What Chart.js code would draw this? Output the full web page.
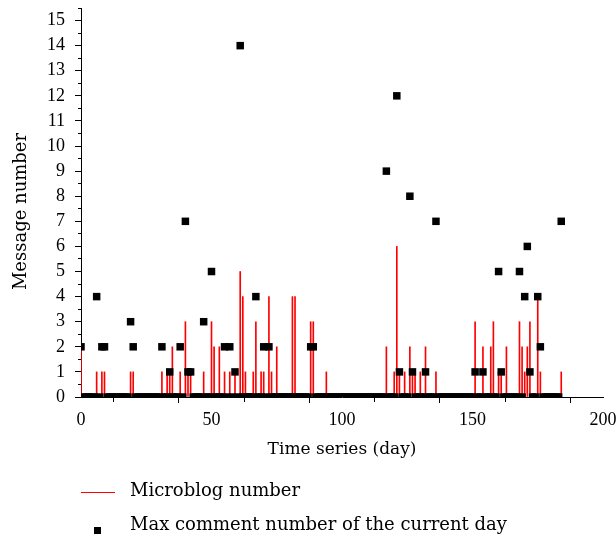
<!DOCTYPE html>
<html>
<head>
<meta charset="utf-8">
<script src="https://cdn.jsdelivr.net/npm/chart.js@4.4.1/dist/chart.umd.min.js"></script>
<style>
  html, body { margin: 0; padding: 0; background: #fff; }
  #wrap { width: 616px; height: 537px; }
</style>
</head>
<body>
<div id="wrap"><canvas id="myChart"></canvas></div>
<script>

// Microblog number per day (index = day 0..184)
var microblogNumber = [
    2,0,0,0,0,0,1,0,1,1,   // 0-9
    0,0,0,0,0,0,0,0,0,1,   // 10-19
    1,0,0,0,0,0,0,0,0,0,   // 20-29
    0,1,0,1,1,2,0,0,1,0,   // 30-39
    3,1,1,0,0,0,0,1,0,0,   // 40-49
    3,2,0,2,0,1,0,1,0,1,   // 50-59
    0,5,4,1,0,0,1,3,0,1,   // 60-69
    1,0,4,1,0,2,0,0,0,0,   // 70-79
    0,4,4,0,0,0,0,0,3,3,   // 80-89
    0,0,0,0,1,0,0,0,0,0,   // 90-99
    0,0,0,0,0,0,0,0,0,0,   // 100-109
    0,0,0,0,0,0,0,2,0,0,   // 110-119
    1,6,1,0,1,0,2,1,1,0,   // 120-129
    1,0,2,0,0,0,1,0,0,0,   // 130-139
    0,0,0,0,0,0,0,0,0,0,   // 140-149
    0,3,0,0,2,0,0,2,3,0,   // 150-159
    1,1,0,2,0,0,0,0,3,2,   // 160-169
    1,2,3,0,0,4,1,0,0,0,   // 170-179
    0,0,0,0,1              // 180-184
];

// Max comment number of the current day (index = day 0..184)
var maxCommentNumber = [
    2,0,0,0,0,0,4,0,2,2,
    0,0,0,0,0,0,0,0,0,3,
    2,0,0,0,0,0,0,0,0,0,
    0,2,0,0,1,0,0,0,2,0,
    7,1,1,0,0,0,0,3,0,0,
    5,0,0,0,0,2,0,2,0,1,
    0,14,0,0,0,0,0,4,0,0,
    2,0,2,0,0,0,0,0,0,0,
    0,0,0,0,0,0,0,0,2,2,
    0,0,0,0,0,0,0,0,0,0,
    0,0,0,0,0,0,0,0,0,0,
    0,0,0,0,0,0,0,9,0,0,
    0,12,1,0,0,0,8,1,0,0,
    0,0,1,0,0,0,7,0,0,0,
    0,0,0,0,0,0,0,0,0,0,
    0,1,0,0,1,0,0,0,0,0,
    5,1,0,0,0,0,0,0,5,0,
    4,6,1,0,0,4,2,0,0,0,
    0,0,0,0,7
];

var seriesNames = ['Microblog number', 'Max comment number of the current day'];
var xTitle = 'Time series (day)';
var yTitle = 'Message number';

var textFont = 'DejaVu Serif';
var numFont = 'Liberation Serif';

// legend drawn under the axis title
var bottomLegend = {
    id: 'bottomLegend',
    afterDraw: function (chart) {
        var ctx = chart.ctx;
        var left = chart.chartArea.left;
        var base = chart.chartArea.bottom;
        ctx.save();
        ctx.font = '18px "' + textFont + '"';
        ctx.fillStyle = '#000';
        ctx.textBaseline = 'middle';
        ctx.textAlign = 'left';

        ctx.strokeStyle = '#ff0000';
        ctx.lineWidth = 1;
        ctx.beginPath();
        ctx.moveTo(left, base + 95.5);
        ctx.lineTo(left + 34, base + 95.5);
        ctx.stroke();
        ctx.fillText(seriesNames[0], left + 49, base + 94);

        ctx.fillStyle = '#000';
        ctx.fillRect(left + 13, base + 130, 7, 7);
        ctx.fillText(seriesNames[1], left + 49, base + 128);
        ctx.restore();
    }
};

var ctx = document.getElementById('myChart').getContext('2d');
var myChart = new Chart(ctx, {
    type: 'bar',
    data: {
        datasets: [
            {
                type: 'scatter',
                label: seriesNames[1],
                data: maxCommentNumber.map(function (v, i) { return { x: i, y: v }; }),
                pointStyle: 'rect',
                pointRadius: 5.3,
                pointBorderWidth: 0,
                backgroundColor: '#000',
                borderColor: '#000',
                clip: 0,
                order: 0
            },
            {
                type: 'bar',
                label: seriesNames[0],
                data: microblogNumber.map(function (v, i) { return { x: i, y: v }; }),
                backgroundColor: '#ff0000',
                borderWidth: 0,
                barThickness: 1,
                grouped: false,
                order: 1
            }
        ]
    },
    options: {
        responsive: true,
        maintainAspectRatio: false,
        animation: false,
        layout: { padding: { top: 8, right: 13, bottom: 77, left: 0 } },
        plugins: {
            legend: { display: false },
            tooltip: { enabled: false }
        },
        scales: {
            x: {
                type: 'linear',
                offset: false,
                min: 0,
                max: 200,
                border: { display: true, color: '#000', width: 1 },
                grid: {
                    drawOnChartArea: false,
                    drawTicks: true,
                    tickLength: 6,
                    color: '#000',
                    tickBorderDash: function (c) { return c.tick && c.tick.value % 50 !== 0 ? [4, 4] : []; }
                },
                ticks: {
                    stepSize: 25,
                    maxRotation: 0,
                    autoSkip: false,
                    padding: 6,
                    color: '#000',
                    font: { family: numFont, size: 18 },
                    callback: function (v) { return v % 50 === 0 ? v : ''; }
                },
                title: {
                    display: true,
                    text: xTitle,
                    color: '#000',
                    padding: 0,
                    font: { family: textFont, size: 17 }
                },
                afterFit: function (scale) {
                    scale.height = 63;
                    scale.paddingLeft = 0;
                    scale.paddingRight = 0;
                }
            },
            y: {
                min: 0,
                max: 15.5,
                border: { display: true, color: '#000', width: 1 },
                grid: {
                    drawOnChartArea: false,
                    drawTicks: true,
                    tickLength: 6,
                    color: '#000',
                    tickBorderDash: function (c) { return c.tick && !Number.isInteger(c.tick.value) ? [3, 3] : []; },
                    tickBorderDashOffset: function (c) { return c.tick && !Number.isInteger(c.tick.value) ? 3 : 0; }
                },
                ticks: {
                    stepSize: 0.5,
                    includeBounds: false,
                    autoSkip: false,
                    padding: 10,
                    color: '#000',
                    font: { family: numFont, size: 18 },
                    callback: function (v) { return Number.isInteger(v) ? v : ''; }
                },
                title: {
                    display: true,
                    // trailing en spaces push the rotated title a little lower, as in the original
                    text: yTitle + '\u2002\u2002',
                    color: '#000',
                    padding: { top: 11, bottom: 0 },
                    font: { family: textFont, size: 18 }
                },
                afterFit: function (scale) {
                    scale.width = 81;
                    scale.paddingTop = 0;
                    scale.paddingBottom = 0;
                }
            }
        }
    },
    plugins: [bottomLegend]
});
</script>
</body>
</html>
